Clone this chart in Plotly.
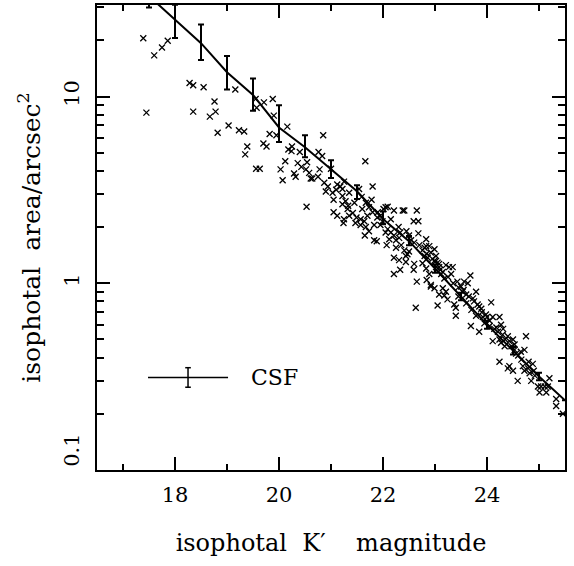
import plotly.graph_objects as go

# CSF curve with error bars
csf_mag = [17.5, 18.0, 18.5, 19.0, 19.5, 20.0, 20.5, 21.0, 21.5, 22.0, 22.5, 23.0, 23.5, 24.0, 24.5, 25.0, 25.5]
csf_area = [34.5, 25.8, 19.3, 13.5, 10.2, 6.83, 5.35, 4.08, 3.11, 2.21, 1.68, 1.20, 0.85, 0.60, 0.436, 0.317, 0.236]
csf_err_plus = [5.0, 5.2, 5.0, 3.0, 2.3, 2.16, 0.85, 0.48, 0.24, 0.21, 0.11, 0.06, 0.04, 0.03, 0.02, 0.015, 0.0]
csf_err_minus = [4.5, 5.2, 3.6, 2.6, 1.8, 1.13, 0.62, 0.42, 0.28, 0.14, 0.08, 0.06, 0.04, 0.03, 0.02, 0.015, 0.0]

# individual objects
obj_mag = [
    17.39, 17.60, 17.75, 17.86, 17.45,
    18.28, 18.35, 18.55, 19.16, 18.76, 18.78, 18.67, 18.35, 18.82, 19.03, 19.23, 19.33, 19.39, 19.35,
    19.55, 19.57, 19.71, 19.88, 19.90, 19.82, 19.95, 19.70, 19.76, 19.56, 19.63,
    20.03, 20.07, 20.18, 20.12, 20.16, 20.85, 20.25, 20.24, 20.40, 20.76, 20.83,
    20.36, 20.43, 20.54, 20.52, 20.29, 20.32, 20.58, 20.61, 20.64, 20.75, 20.78, 21.00, 20.87, 20.90,
    20.94, 21.03, 21.10, 21.12, 21.18, 21.22, 21.05, 21.28, 21.33, 21.35, 20.53, 21.05, 21.12, 21.25,
    21.24, 21.35,
    21.25, 21.22, 21.22, 21.32, 21.42, 21.49, 21.47, 21.57, 21.57, 21.64, 21.80, 21.54, 21.59, 21.67,
    21.78, 21.73, 21.80, 21.70, 21.67, 21.65, 21.73, 21.83, 21.88, 21.89, 21.83, 21.95, 21.99, 22.01,
    22.05, 22.09, 22.21, 22.38, 22.41, 22.65, 22.59, 22.68, 22.05, 22.09, 22.15, 22.21, 22.12, 22.07,
    22.25, 22.31, 22.33, 22.54, 22.68, 22.83, 22.89, 22.80, 22.41, 22.50, 22.44, 22.21, 22.31, 22.44,
    22.60, 22.59, 22.21, 22.33, 22.65, 22.84, 22.89, 22.99, 23.02, 23.08, 22.92, 22.80, 22.84,
    21.66, 22.63, 22.83, 22.76, 22.47,
    22.83, 22.76, 22.92, 22.86, 22.99, 23.02, 23.05, 23.08, 22.92, 22.99, 23.12, 23.18, 23.21, 23.27,
    23.34, 23.31, 23.15, 23.08, 23.05, 23.18, 23.21, 23.24, 23.37, 23.40, 23.40, 23.43, 23.50, 23.56,
    23.53, 23.63, 23.68, 23.60, 23.73, 23.79, 23.82, 23.89, 23.69, 23.79, 23.92, 23.98, 23.95, 24.08,
    24.05, 24.11, 24.14, 23.85,
    24.24, 24.27, 24.31, 24.18, 24.21, 24.24, 24.27, 24.34, 24.40, 24.43, 24.47, 24.50, 24.53, 24.53,
    24.56, 24.75, 24.72, 24.24, 24.43, 24.40, 24.50, 24.59, 24.66, 24.69, 24.72, 24.79, 24.82, 24.88,
    24.92, 24.85, 24.98, 25.04, 25.11, 25.17, 25.20, 25.01, 25.14, 25.33, 25.33, 25.46, 24.11,
    23.00, 23.10, 23.15, 23.25, 23.35, 23.45, 23.55, 23.65, 23.75, 23.85, 23.90, 24.00, 24.05, 22.70,
    22.60, 22.95, 22.50, 22.35, 22.25, 21.90, 21.60, 21.45, 21.95, 22.15, 22.30, 22.45, 23.45, 23.60,
    23.70, 24.30, 24.35, 24.60, 24.65, 24.80, 24.90,
]
obj_area = [
    20.5, 16.6, 18.3, 19.9, 8.2,
    11.8, 11.5, 11.2, 10.9, 9.4, 8.3, 7.8, 8.3, 6.4, 7.0, 6.6, 6.5, 5.4, 4.9,
    9.7, 8.7, 9.3, 9.7, 7.9, 6.3, 6.2, 5.6, 5.4, 4.1, 4.1,
    4.07, 3.56, 5.2, 4.5, 6.9, 6.2, 5.4, 5.1, 5.05, 5.05, 4.8,
    4.4, 4.2, 4.45, 4.07, 3.87, 3.72, 3.9, 3.64, 3.64, 3.72, 4.07, 4.1, 3.45, 3.1,
    3.3, 3.05, 3.17, 3.38, 3.3, 2.93, 2.8, 2.75, 2.6, 3.05, 2.57, 2.4, 2.3, 2.2,
    2.1, 2.3,
    3.5, 3.2, 2.65, 2.5, 2.38, 2.25, 2.1, 2.2, 2.05, 2.15, 3.3, 3.2, 2.9, 2.7,
    2.8, 2.55, 2.4, 2.3, 2.0, 1.8, 1.9, 1.7, 1.68, 2.25, 2.05, 2.05, 2.15, 2.5,
    2.55, 2.57, 2.45, 2.45, 2.45, 2.45, 2.15, 2.15, 1.87, 1.95, 1.87, 1.8, 1.72, 1.6,
    1.7, 1.75, 1.87, 1.7, 1.85, 1.72, 1.58, 1.55, 1.5, 1.48, 1.4, 1.37, 1.33, 1.3,
    1.27, 1.18, 1.12, 1.18, 1.02, 1.04, 1.12, 1.32, 1.22, 1.27, 0.98, 1.4, 1.44,
    4.5, 0.74, 1.2, 1.28, 1.43,
    1.58, 1.5, 1.46, 1.37, 1.52, 1.4, 1.29, 1.22, 0.96, 0.94, 1.12, 1.06, 1.25, 1.22,
    1.22, 1.12, 0.94, 0.87, 0.76, 0.86, 0.9, 0.82, 0.77, 0.67, 0.74, 1.02, 0.96, 1.02,
    0.9, 1.0, 1.1, 0.87, 0.83, 0.9, 0.77, 0.73, 0.59, 0.67, 0.66, 0.68, 0.61, 0.79,
    0.59, 0.66, 0.57, 0.55,
    0.66, 0.6, 0.57, 0.58, 0.55, 0.5, 0.48, 0.46, 0.52, 0.49, 0.46, 0.5, 0.47, 0.44,
    0.42, 0.52, 0.44, 0.38, 0.36, 0.35, 0.34, 0.3, 0.39, 0.36, 0.34, 0.35, 0.33, 0.37,
    0.32, 0.3, 0.28, 0.28, 0.28, 0.28, 0.31, 0.26, 0.26, 0.24, 0.22, 0.2, 0.49,
    1.3, 1.18, 1.15, 1.08, 1.0, 0.95, 0.92, 0.85, 0.8, 0.75, 0.7, 0.66, 0.63, 1.6,
    1.65, 1.35, 1.8, 1.6, 1.55, 2.4, 2.5, 2.7, 2.3, 2.2, 2.0, 1.9, 0.85, 0.78,
    0.72, 0.53, 0.5, 0.41, 0.43, 0.38, 0.34,
]

x_range = [16.5, 25.5]
y_range_log = [-1, 1.49]
y_tickvals = [0.1, 1, 10]
y_ticktext = ["&nbsp;&nbsp;&nbsp;&nbsp;&nbsp;0.1", "1", "10"]
legend_label = "CSF"
x_title = "isophotal&nbsp;&nbsp;K\u2032&nbsp;&nbsp;&nbsp;&nbsp;magnitude"
y_title = "isophotal&nbsp;&nbsp;area/arcsec<sup>2</sup>"

FONT = "DejaVu Serif"

fig = go.Figure()
fig.add_trace(go.Scatter(
    x=obj_mag, y=obj_area, mode="markers",
    marker=dict(symbol="x-thin", size=6, color="black", line=dict(width=1.3, color="black")),
    showlegend=False, cliponaxis=True,
))
fig.add_trace(go.Scatter(
    x=csf_mag, y=csf_area, mode="lines",
    line=dict(color="black", width=2),
    error_y=dict(type="data", symmetric=False, array=csf_err_plus, arrayminus=csf_err_minus,
                 color="black", thickness=2, width=3),
    showlegend=False,
))

axis_common = dict(
    showline=True, linecolor="black", linewidth=2, mirror="ticks",
    ticks="inside", tickcolor="black", tickwidth=1.5, showgrid=False, zeroline=False,
    tickfont=dict(family=FONT, size=21, color="black"),
)
fig.update_xaxes(
    range=x_range, tickmode="linear", tick0=18, dtick=2, ticklen=13, ticklabelstandoff=5,
    minor=dict(ticks="inside", ticklen=6, dtick=1, tick0=0, tickcolor="black", tickwidth=1.5, showgrid=False),
    title=dict(text=x_title, font=dict(family=FONT, size=24, color="black"), standoff=28),
    **axis_common,
)
fig.update_yaxes(
    type="log", range=y_range_log, tickmode="array", tickvals=y_tickvals, ticktext=y_ticktext,
    ticklen=13, tickangle=-90, ticklabelstandoff=8,
    minor=dict(ticks="inside", ticklen=7, dtick="D1", tickcolor="black", tickwidth=1.5, showgrid=False),
    title=dict(text=y_title, font=dict(family=FONT, size=25, color="black"), standoff=12),
    **axis_common,
)

# legend drawn inside the plot area (paper coordinates)
lx0, lx1, ly = 0.109, 0.280, 0.199
lxm = (lx0 + lx1) / 2
fig.add_shape(type="line", xref="paper", yref="paper", x0=lx0, x1=lx1, y0=ly, y1=ly,
              line=dict(color="black", width=1.5))
fig.add_shape(type="line", xref="paper", yref="paper", x0=lxm, x1=lxm, y0=ly - 0.021, y1=ly + 0.021,
              line=dict(color="black", width=1.5))
for dy in (-0.021, 0.021):
    fig.add_shape(type="line", xref="paper", yref="paper", x0=lxm - 0.006, x1=lxm + 0.006,
                  y0=ly + dy, y1=ly + dy, line=dict(color="black", width=1.5))
fig.add_annotation(xref="paper", yref="paper", x=0.325, y=ly, text=legend_label, showarrow=False,
                   xanchor="left", yanchor="middle", font=dict(family=FONT, size=22, color="black"))

fig.update_layout(
    width=574, height=566,
    margin=dict(l=97, r=9, t=3, b=96),
    paper_bgcolor="white", plot_bgcolor="white",
    showlegend=False,
)
fig.write_html("out.html")
